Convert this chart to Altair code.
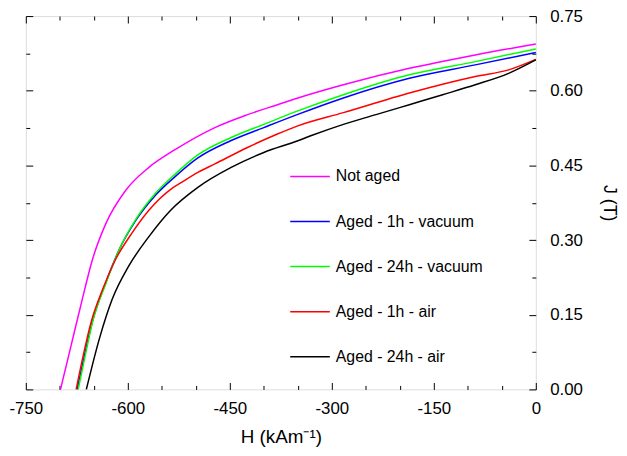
import altair as alt
import pandas as pd

series = ["Not aged", "Aged - 1h - vacuum", "Aged - 24h - vacuum", "Aged - 1h - air", "Aged - 24h - air"]
colors = ["#FF00FF", "#0000FF", "#00FF00", "#FF0000", "#000000"]

h_not_aged = [-699, -683, -667, -652, -632, -603, -569, -530, -472, -424, -380, -351, -283, -186, -89, 0]
j_not_aged = [0.0, 0.0906, 0.181, 0.261, 0.334, 0.400, 0.446, 0.482, 0.526, 0.552, 0.572, 0.585, 0.612, 0.645, 0.672, 0.694]

h_1h_vac = [-674.5, -663, -652, -632, -613, -589, -560, -530, -497, -448, -400, -351, -283, -186, -89, 0]
j_1h_vac = [0.0, 0.073, 0.137, 0.216, 0.280, 0.338, 0.389, 0.428, 0.465, 0.500, 0.526, 0.552, 0.5855, 0.625, 0.652, 0.677]

h_24h_vac = [-673, -662, -652, -632, -613, -589, -560, -530, -497, -448, -400, -351, -283, -186, -89, 0]
j_24h_vac = [0.0, 0.072, 0.135, 0.214, 0.280, 0.340, 0.393, 0.433, 0.471, 0.506, 0.5325, 0.559, 0.592, 0.632, 0.6585, 0.684]

h_1h_air = [-676, -665, -654, -637, -618, -594, -569, -535, -521, -497, -472, -424, -380, -351, -283, -186, -89, -40, 0]
j_1h_air = [0.0, 0.072, 0.135, 0.201, 0.261, 0.314, 0.360, 0.404, 0.416, 0.436, 0.453, 0.486, 0.513, 0.529, 0.556, 0.5955, 0.6287, 0.642, 0.663]

h_24h_air = [-661, -642, -623, -599, -569, -537, -497, -448, -400, -351, -332, -283, -235, -186, -137, -89, -40, 0]
j_24h_air = [0.0, 0.101, 0.181, 0.247, 0.307, 0.360, 0.406, 0.446, 0.476, 0.499, 0.509, 0.5325, 0.552, 0.572, 0.592, 0.612, 0.635, 0.662]

x_major = [-750, -600, -450, -300, -150, 0]
x_minor = [-700, -650, -550, -500, -400, -350, -250, -200, -100, -50]
y_major = [0.0, 0.15, 0.30, 0.45, 0.60, 0.75]
y_minor = [0.075, 0.225, 0.375, 0.525, 0.675]

rows = []
for name, hs, js in zip(series,
                        [h_not_aged, h_1h_vac, h_24h_vac, h_1h_air, h_24h_air],
                        [j_not_aged, j_1h_vac, j_24h_vac, j_1h_air, j_24h_air]):
    for i, (h, j) in enumerate(zip(hs, js)):
        rows.append({"series": name, "H": h, "J": j, "idx": i})
df = pd.DataFrame(rows)

FONT = "Liberation Sans"
xs = alt.Scale(domain=[-750, 0], nice=False, zero=False)
ys = alt.Scale(domain=[0, 0.75], nice=False, zero=False)

def ax(orient, values, size, labels=False, **kw):
    return alt.Axis(orient=orient, values=values, tickSize=size, offset=-size,
                    labels=labels, domain=False, grid=False, tickColor="black",
                    tickWidth=1, labelFlush=False, **kw)

main = alt.Chart(df).mark_line(strokeWidth=1.5, interpolate="monotone").encode(
    x=alt.X("H:Q", scale=xs,
            axis=ax("bottom", x_major, 7, labels=True, title="H (kAm⁻¹)",
                    labelExpr="'' + datum.value",
                    labelFontSize=17, labelFont=FONT, labelColor="black", labelPadding=11,
                    titleFont=FONT, titleFontSize=19, titleFontWeight="normal",
                    titleColor="black", titlePadding=12)),
    y=alt.Y("J:Q", scale=ys,
            axis=ax("right", y_major, 7, labels=True, title="J (T)", format=".2f",
                    labelFontSize=17, labelFont=FONT, labelColor="black", labelPadding=14,
                    titleFont=FONT, titleFontSize=18, titleFontWeight="normal",
                    titleColor="black", titlePadding=17)),
    color=alt.Color("series:N", scale=alt.Scale(domain=series, range=colors), sort=series,
                    legend=alt.Legend(orient="none", legendX=266, legendY=141, title=None,
                                      symbolType="stroke", symbolSize=1600,
                                      symbolStrokeWidth=1.5, labelFontSize=16,
                                      labelFont=FONT, labelColor="black",
                                      labelOffset=5, rowPadding=16.5, padding=0)),
    order="idx:Q",
)

def tick_layer(xo, xv, xsz, yo, yv, ysz):
    return alt.Chart(df).mark_point(opacity=0).encode(
        x=alt.X("H:Q", scale=xs, axis=ax(xo, xv, xsz, title=None)),
        y=alt.Y("J:Q", scale=ys, axis=ax(yo, yv, ysz, title=None)),
    )

chart = alt.layer(
    main,
    tick_layer("bottom", x_minor, 4, "right", y_minor, 4),
    tick_layer("top", x_major, 7, "left", y_major, 7),
    tick_layer("top", x_minor, 4, "left", y_minor, 4),
).resolve_axis(x="independent", y="independent").properties(
    width=515, height=377,
    autosize=alt.AutoSizeParams(type="none"),
    padding={"left": 18, "top": 6, "right": 84, "bottom": 56},
).configure_view(stroke="black", strokeWidth=1.5).configure(background="white")

chart.save("out.html", embed_options={"renderer": "svg", "actions": False})
